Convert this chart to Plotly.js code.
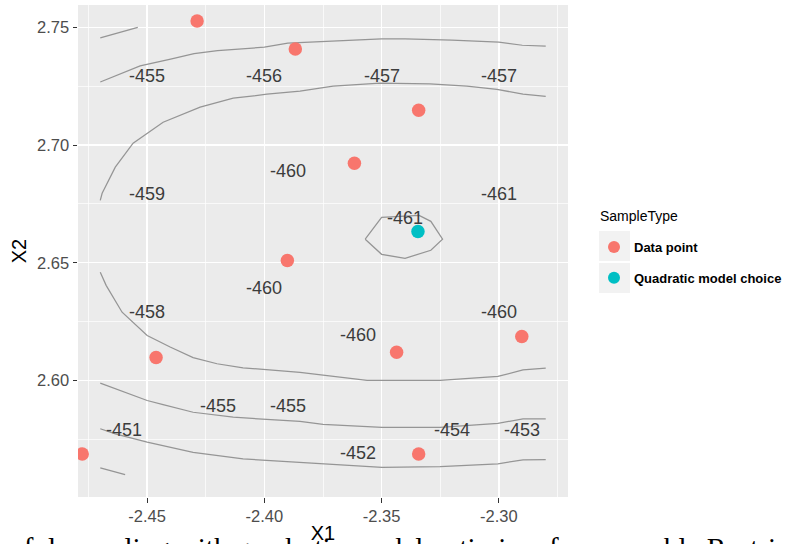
<!DOCTYPE html>
<html>
<head>
<meta charset="utf-8">
<script src="https://cdn.plot.ly/plotly-3.0.1.min.js"></script>
<style>html,body{margin:0;padding:0;background:#fff;}#chart{width:785px;height:544px;}</style>
</head>
<body>
<div id="chart"></div>
<script>
// Sample points
var dataX = [-2.4287, -2.3868, -2.3342, -2.3616, -2.3902, -2.4462, -2.3436, -2.2902, -2.4777, -2.3342];
var dataY = [2.7527, 2.7408, 2.7148, 2.6923, 2.6510, 2.6098, 2.6120, 2.6187, 2.5688, 2.5688];
var optX = [-2.3345];
var optY = [2.6633];

// Contour lines
var line1X = [-2.47, -2.454];
var line1Y = [2.7455, 2.75];
var line2X = [-2.47, -2.463, -2.453, -2.44, -2.43, -2.42, -2.41, -2.40, -2.39, -2.38, -2.37, -2.36, -2.35, -2.34, -2.33, -2.32, -2.31, -2.30, -2.29, -2.28];
var line2Y = [2.7268, 2.7296, 2.7336, 2.7365, 2.7388, 2.7401, 2.7409, 2.7416, 2.7433, 2.7438, 2.7443, 2.7448, 2.7451, 2.7451, 2.7450, 2.7446, 2.7442, 2.7437, 2.7424, 2.7420];
var line3X = [-2.47, -2.4692, -2.4636, -2.456, -2.4432, -2.4274, -2.4133, -2.3989, -2.3848, -2.3707, -2.3507, -2.3294, -2.3136, -2.3008, -2.2897, -2.28];
var line3Y = [2.6765, 2.6795, 2.6906, 2.7008, 2.7097, 2.7161, 2.7199, 2.7216, 2.7229, 2.7250, 2.7263, 2.7260, 2.7250, 2.7237, 2.7216, 2.7207];
var line4X = [-2.357, -2.35, -2.334, -2.329, -2.324, -2.329, -2.34, -2.35, -2.357];
var line4Y = [2.6600, 2.6693, 2.6701, 2.6676, 2.6600, 2.6553, 2.6519, 2.6536, 2.6600];
var line5X = [-2.47, -2.4675, -2.4607, -2.45, -2.4402, -2.4304, -2.4202, -2.4091, -2.3848, -2.3562, -2.3251, -2.3004, -2.2897, -2.28];
var line5Y = [2.6460, 2.6404, 2.6290, 2.6191, 2.6142, 2.6097, 2.6071, 2.6054, 2.6034, 2.6000, 2.6000, 2.6017, 2.6045, 2.6052];
var line6X = [-2.47, -2.45, -2.4432, -2.4304, -2.4133, -2.3989, -2.3848, -2.375, -2.3498, -2.3251, -2.3004, -2.2897, -2.28];
var line6Y = [2.5989, 2.5915, 2.5897, 2.5865, 2.5844, 2.5834, 2.5826, 2.5813, 2.5801, 2.5801, 2.5818, 2.5837, 2.5837];
var line7X = [-2.47, -2.4636, -2.45, -2.4304, -2.4091, -2.3848, -2.3498, -2.3251, -2.3004, -2.2897, -2.28];
var line7Y = [2.5795, 2.5773, 2.5738, 2.5695, 2.5667, 2.5653, 2.5631, 2.5634, 2.5646, 2.5663, 2.5664];
var line8X = [-2.47, -2.4594];
var line8Y = [2.5629, 2.56];

// Contour labels
var labelX = [-2.45, -2.40, -2.35, -2.30, -2.39, -2.45, -2.34, -2.30, -2.40, -2.45, -2.36, -2.30, -2.42, -2.39, -2.46, -2.36, -2.32, -2.29];
var labelY = [2.73, 2.73, 2.73, 2.73, 2.69, 2.68, 2.67, 2.68, 2.64, 2.63, 2.62, 2.63, 2.59, 2.59, 2.58, 2.57, 2.58, 2.58];
var labelText = ["-455","-456","-457","-457","-460","-459","-461","-461","-460","-458","-460","-460","-455","-455","-451","-452","-454","-453"];

var xTicks = [-2.45, -2.40, -2.35, -2.30];
var xTickText = ["-2.45", "-2.40", "-2.35", "-2.30"];
var yTicks = [2.60, 2.65, 2.70, 2.75];
var yTickText = ["2.60", "2.65", "2.70", "2.75"];

var legendTitle = "SampleType";
var caption = "Successful sampling with quadratic model optimizer for separable Restricted Boltzmann machines";

var lineStyle = {color: '#959595', width: 1.25};
var lines = [[line1X, line1Y], [line2X, line2Y], [line3X, line3Y], [line4X, line4Y],
             [line5X, line5Y], [line6X, line6Y], [line7X, line7Y], [line8X, line8Y]];
var traces = lines.map(function (l) {
  return {x: l[0], y: l[1], type: 'scatter', mode: 'lines', line: lineStyle,
          showlegend: false, hoverinfo: 'skip'};
});
traces.push({x: dataX, y: dataY, type: 'scatter', mode: 'markers', name: 'Data point',
  legendgroup: 'a', marker: {color: '#F8766D', size: 13.5}});
traces.push({x: optX, y: optY, type: 'scatter', mode: 'markers', name: 'Quadratic model choice',
  legendgroup: 'b', marker: {color: '#00BFC4', size: 13.5}});

function px2paperX(p) { return (p - 78) / 490; }
function px2paperY(p) { return (497 - p) / 492; }

var labelAnnotations = labelText.map(function (t, i) {
  return {text: t, x: labelX[i], y: labelY[i], xref: 'x', yref: 'y', showarrow: false,
          xanchor: 'center', yanchor: 'middle', yshift: -2,
          font: {family: 'Liberation Sans, Arial', size: 18, color: '#3c3c3c'}};
});

var layout = {
  width: 785, height: 544,
  margin: {l: 78, r: 217, t: 5, b: 47},
  paper_bgcolor: '#ffffff',
  plot_bgcolor: '#ebebeb',
  font: {family: 'Liberation Sans, Arial', color: '#000'},
  xaxis: {
    range: [-2.4795, -2.2705], tickvals: xTicks, ticktext: xTickText,
    showgrid: true, gridcolor: '#ffffff', gridwidth: 1.4, zeroline: false,
    minor: {dtick: 0.025, tick0: -2.475, showgrid: true, gridcolor: '#ffffff', gridwidth: 0.7, ticklen: 0},
    ticks: 'outside', ticklen: 4.5, tickcolor: '#333333', tickwidth: 1.1,
    tickfont: {size: 16.5, color: '#4d4d4d'},
    title: {text: 'X1', font: {size: 20, color: '#000'}, standoff: 8},
    automargin: false
  },
  yaxis: {
    range: [2.5505, 2.7595], tickvals: yTicks, ticktext: yTickText,
    showgrid: true, gridcolor: '#ffffff', gridwidth: 1.4, zeroline: false,
    minor: {dtick: 0.025, tick0: 2.575, showgrid: true, gridcolor: '#ffffff', gridwidth: 0.7, ticklen: 0},
    ticks: 'outside', ticklen: 4.5, tickcolor: '#333333', tickwidth: 1.1,
    tickfont: {size: 16.5, color: '#4d4d4d'},
    title: {text: 'X2', font: {size: 20, color: '#000'}, standoff: 5},
    automargin: false
  },
  showlegend: true,
  legend: {
    xref: 'container', yref: 'container',
    x: 594 / 785, xanchor: 'left', y: 1 - 232 / 544, yanchor: 'top',
    bgcolor: 'rgba(0,0,0,0)', borderwidth: 0,
    font: {size: 13, color: '#000', weight: 'bold'},
    tracegroupgap: 11, itemsizing: 'constant'
  },
  shapes: [
    {type: 'rect', xref: 'paper', yref: 'paper', x0: px2paperX(599), x1: px2paperX(630),
     y0: px2paperY(261), y1: px2paperY(231), fillcolor: '#f2f2f2', line: {width: 0}, layer: 'below'},
    {type: 'rect', xref: 'paper', yref: 'paper', x0: px2paperX(599), x1: px2paperX(630),
     y0: px2paperY(293), y1: px2paperY(263), fillcolor: '#f2f2f2', line: {width: 0}, layer: 'below'}
  ],
  annotations: labelAnnotations.concat([
    {text: legendTitle, xref: 'paper', yref: 'paper', x: px2paperX(598), y: px2paperY(216),
     xanchor: 'left', yanchor: 'middle', showarrow: false,
     font: {family: 'Liberation Sans, Arial', size: 14, color: '#000'}},
    {text: caption, xref: 'paper', yref: 'paper', x: px2paperX(-70), y: px2paperY(548),
     xanchor: 'left', yanchor: 'middle', showarrow: false,
     font: {family: 'Liberation Serif, Times New Roman, serif', size: 29, color: '#000'}}
  ])
};

Plotly.newPlot('chart', traces, layout, {displayModeBar: false, staticPlot: true});
</script>
</body>
</html>
